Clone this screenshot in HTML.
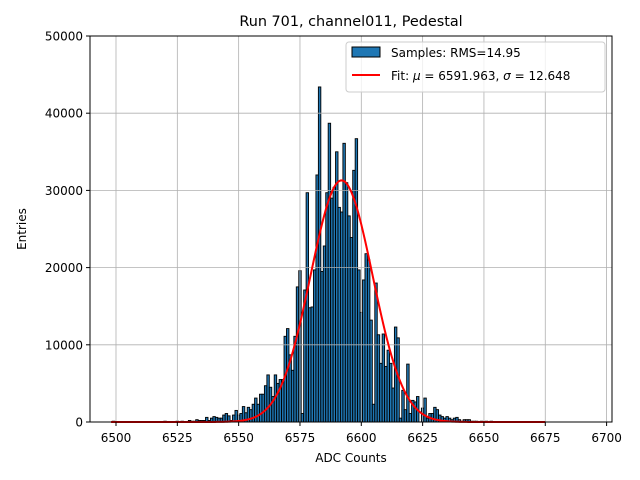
<!DOCTYPE html>
<html><head><meta charset="utf-8"><style>
html,body{margin:0;padding:0;background:#fff;}
svg{display:block;font-family:"DejaVu Sans","Liberation Sans",sans-serif;}
</style></head><body>
<svg id="chart" width="640" height="480" viewBox="0 0 640 480" xmlns="http://www.w3.org/2000/svg">
<rect width="640" height="480" fill="#fff"/>
<text x="351" y="26" font-size="14.4" text-anchor="middle">Run 701, channel011, Pedestal</text>
<g id="bars"></g>
<g id="grid"></g>
<path id="fit" fill="none" stroke="#ff0000" stroke-width="2"/>
<rect x="90" y="36" width="522" height="386" fill="none" stroke="#000" stroke-width="1"/>
<g id="xticks"></g>
<g id="yticks"></g>
<text x="351" y="462" font-size="12" text-anchor="middle">ADC Counts</text>
<text x="26" y="229" font-size="12" text-anchor="middle" transform="rotate(-90 26 229)">Entries</text>
<g>
<rect x="346" y="42" width="259" height="50" rx="3" fill="#fff" fill-opacity="0.8" stroke="#cccccc"/>
<rect x="352" y="47" width="28" height="10" fill="#1f77b4" stroke="#000"/>
<text x="391" y="57" font-size="12">Samples: RMS=14.95</text>
<line x1="352" y1="75" x2="380" y2="75" stroke="#ff0000" stroke-width="2"/>
<text x="391" y="80" font-size="12">Fit: <tspan font-style="italic">μ</tspan> = 6591.963, <tspan font-style="italic">σ</tspan> = 12.648</text>
</g>
</svg>
<script>
const binStart = 6499;
const counts = [
100,0,0,0,0,0,0,0,0,0, 0,0,0,0,0,0,0,0,0,0,
0,100,0,0,0,0,100,0,100,0, 0,200,100,100,300,200,200,200,600,200,
500,700,600,500,500,900,1100,800,200,900, 1500,900,1100,2000,1200,1900,1600,2300,3100,2300,
3600,3600,4700,6100,4500,3300,6100,5000,5500,5500, 11100,12100,8700,6700,11100,17500,19600,1100,17100,29700,
14800,14900,19700,32000,43400,19500,22800,29700,38700,29000, 30400,35000,27800,27200,36100,31000,26700,23900,32600,36700,
19700,14200,18400,21800,21000,13200,2300,18000,11300,7600, 11400,7200,9300,7600,4400,12300,10900,500,4100,1600,
7500,1100,2800,2600,3300,0,1800,3100,500,1100, 1100,1900,1600,900,700,500,700,500,300,500,
600,300,100,300,300,300,100,100,100,0, 100,0,100,0,100,0,0,0,0,0
];
const xTicks = [6500,6525,6550,6575,6600,6625,6650,6675,6700];
const yTicks = [0,10000,20000,30000,40000,50000];
const fitMu = 6591.963;
const fitSigma = 12.648;
const fitAmp = 31300;
const fitRange = [6498, 6675];

const NS = "http://www.w3.org/2000/svg";
const X = v => 116 + (v - 6500) * 2.453;
const Y = c => 422 - c * 0.00772;

const bars = document.getElementById('bars');
counts.forEach((c, i) => {
  if (c <= 0) return;
  const v = binStart + i;
  const r = document.createElementNS(NS, 'rect');
  r.setAttribute('x', X(v - 0.5));
  r.setAttribute('y', Y(c));
  r.setAttribute('width', 2.453);
  r.setAttribute('height', 422 - Y(c));
  r.setAttribute('fill', '#1f77b4');
  r.setAttribute('stroke', '#000');
  r.setAttribute('stroke-width', '0.9');
  
  
  bars.appendChild(r);
});

const grid = document.getElementById('grid');
const xt = document.getElementById('xticks');
const yt = document.getElementById('yticks');
xTicks.forEach(t => {
  const x = X(t);
  const g = document.createElementNS(NS, 'line');
  g.setAttribute('x1', x); g.setAttribute('x2', x); g.setAttribute('y1', 36); g.setAttribute('y2', 422);
  g.setAttribute('stroke', '#b0b0b0'); g.setAttribute('stroke-width', '0.8');
  
  
  grid.appendChild(g);
  const tk = document.createElementNS(NS, 'line');
  tk.setAttribute('x1', x); tk.setAttribute('x2', x); tk.setAttribute('y1', 422); tk.setAttribute('y2', 426);
  tk.setAttribute('stroke', '#000');
  
  
  xt.appendChild(tk);
  const lb = document.createElementNS(NS, 'text');
  lb.setAttribute('x', x); lb.setAttribute('y', 442);
  lb.setAttribute('font-size', '12'); lb.setAttribute('text-anchor', 'middle');
  lb.textContent = t;
  
  
  xt.appendChild(lb);
});
yTicks.forEach(t => {
  const y = Y(t);
  const g = document.createElementNS(NS, 'line');
  g.setAttribute('x1', 90); g.setAttribute('x2', 612); g.setAttribute('y1', y); g.setAttribute('y2', y);
  g.setAttribute('stroke', '#b0b0b0'); g.setAttribute('stroke-width', '0.8');
  
  
  grid.appendChild(g);
  const tk = document.createElementNS(NS, 'line');
  tk.setAttribute('x1', 86); tk.setAttribute('x2', 90); tk.setAttribute('y1', y); tk.setAttribute('y2', y);
  tk.setAttribute('stroke', '#000');
  
  
  yt.appendChild(tk);
  const lb = document.createElementNS(NS, 'text');
  lb.setAttribute('x', 83); lb.setAttribute('y', y + 4.5);
  lb.setAttribute('font-size', '12'); lb.setAttribute('text-anchor', 'end');
  lb.textContent = t;
  
  
  yt.appendChild(lb);
});

let d = '';
for (let v = fitRange[0]; v <= fitRange[1]; v += 0.5) {
  const c = fitAmp * Math.exp(-((v - fitMu) ** 2) / (2 * fitSigma * fitSigma));
  d += (d ? 'L' : 'M') + X(v).toFixed(2) + ',' + Y(c).toFixed(2);
}
document.getElementById('fit').setAttribute('d', d);
</script>
</body></html>
